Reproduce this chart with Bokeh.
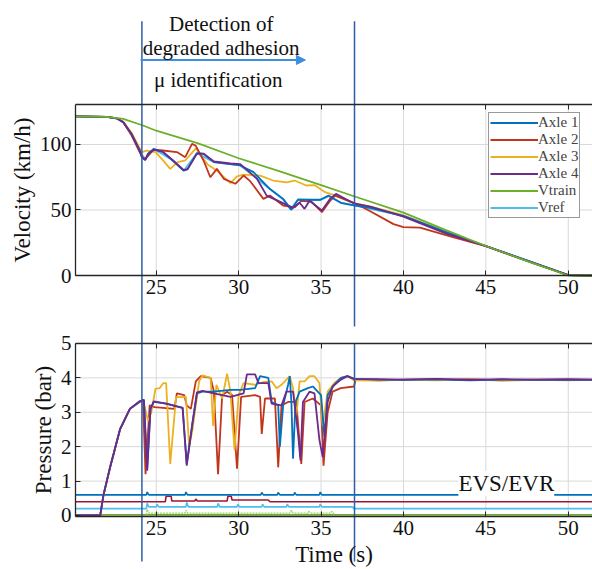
from bokeh.plotting import figure
from bokeh.models import (Range1d, FixedTicker, LinearAxis, Legend, LegendItem,
                          Label, Arrow, NormalHead)
from bokeh.embed import file_html
from bokeh.resources import INLINE

FONT = "Liberation Serif"

# ---------------- data ----------------
x_ticks = [25, 30, 35, 40, 45, 50]
v_ticks = [0, 50, 100]
p_ticks = [0, 1, 2, 3, 4, 5]
t_markers = [24.13, 37.03]

# velocity (km/h)
t_v1 = [20.1, 22.0, 22.6, 23.0, 23.5, 24.0, 24.13, 24.33, 24.5, 24.84, 25.4, 26.0, 26.66, 26.9, 27.47, 27.87, 28.5, 29.5, 30.1, 30.9, 31.9, 32.7, 33.2, 33.6, 34.95, 35.45, 36.2, 37.0, 38.0, 40.0, 42.5, 45.0, 47.5, 50.0, 51.47]
v_axle1 = [121.5, 121.0, 120.0, 117.0, 108.0, 95.0, 90.0, 88.3, 93.0, 96.6, 94.2, 87.8, 80.0, 81.4, 93.4, 92.9, 86.5, 85.0, 84.0, 78.9, 66.0, 58.5, 50.1, 57.8, 57.8, 61.0, 55.5, 53.6, 51.7, 45.5, 33.5, 22.5, 11.5, 0.3, 0.0]

t_v2 = [20.1, 22.0, 22.6, 23.0, 23.5, 24.0, 24.23, 24.4, 24.84, 25.4, 26.25, 26.76, 27.17, 27.4, 27.87, 28.28, 28.68, 29.1, 29.8, 30.3, 30.7, 31.0, 31.5, 31.9, 32.3, 32.7, 33.4, 33.8, 34.4, 35.05, 35.55, 35.85, 37.0, 37.9, 39.4, 40.0, 41.0, 43.0, 45.0, 47.5, 50.0, 51.47]
v_axle2 = [121.5, 121.0, 120.0, 117.0, 107.0, 94.0, 89.0, 90.0, 96.0, 95.4, 94.2, 90.3, 100.5, 99.0, 87.8, 75.0, 81.4, 73.8, 70.0, 76.3, 72.0, 67.0, 58.5, 61.0, 57.3, 53.4, 52.0, 57.0, 56.5, 48.3, 57.0, 61.0, 55.5, 49.6, 39.2, 36.9, 36.5, 29.3, 22.4, 11.2, 0.3, 0.0]

t_v3 = [20.1, 22.0, 22.6, 23.0, 23.5, 24.13, 24.4, 24.96, 25.4, 25.85, 26.3, 26.76, 27.4, 28.1, 28.68, 29.5, 29.9, 30.3, 31.3, 32.1, 32.9, 33.4, 34.1, 34.6, 35.25, 35.65, 37.0, 38.0, 40.0, 42.5, 45.0, 47.5, 50.0, 51.47]
v_axle3 = [121.5, 121.0, 120.0, 117.5, 109.0, 94.0, 95.4, 94.2, 88.0, 81.4, 86.5, 87.8, 97.0, 85.0, 80.0, 70.5, 75.6, 77.0, 76.3, 72.5, 71.0, 72.5, 68.7, 69.0, 63.6, 62.0, 55.0, 52.5, 46.0, 33.5, 22.4, 11.2, 0.3, 0.0]

t_v4 = [20.1, 22.0, 22.6, 23.0, 23.5, 24.0, 24.13, 24.33, 24.5, 24.84, 25.4, 26.0, 26.66, 26.9, 27.47, 27.87, 28.5, 29.5, 30.1, 31.1, 31.7, 32.3, 33.3, 33.7, 34.0, 34.3, 35.05, 35.55, 35.9, 37.0, 38.0, 40.0, 42.6, 45.0, 47.5, 50.0, 51.47]
v_axle4 = [121.5, 121.0, 120.0, 117.0, 108.0, 95.5, 90.5, 88.0, 92.5, 96.0, 94.5, 88.0, 80.5, 81.0, 93.0, 93.0, 87.0, 85.5, 85.0, 74.0, 61.0, 57.5, 51.6, 55.5, 50.9, 57.0, 49.6, 58.5, 62.3, 55.0, 52.5, 45.0, 32.0, 22.4, 11.2, 0.3, 0.0]

t_vtrain = [20.1, 22.0, 23.0, 24.2, 25.0, 27.5, 30.0, 32.5, 35.0, 37.0, 40.0, 42.5, 45.0, 47.5, 50.0, 51.47]
v_train = [121.5, 121.0, 119.5, 114.5, 110.5, 101.0, 89.5, 79.5, 69.0, 60.5, 48.0, 35.0, 22.5, 11.0, 0.0, 0.0]

t_vref = [20.1, 22.0, 22.6, 23.0, 23.5, 24.0, 24.33, 24.84, 26.0, 26.66, 27.47, 28.5, 30.1, 31.9, 32.7, 33.15, 33.6, 34.95, 35.45, 36.2, 37.0, 40.0, 45.0, 50.0, 51.47]
v_ref = [121.5, 121.0, 120.0, 117.0, 108.0, 95.0, 88.5, 96.5, 88.0, 80.0, 93.4, 86.5, 84.0, 66.0, 58.0, 50.5, 58.0, 57.5, 60.5, 55.5, 53.6, 45.5, 22.5, 0.3, 0.0]

# brake cylinder pressure (bar)
t_p1 = [20.1, 21.6, 21.8, 22.2, 22.8, 23.4, 24.0, 24.25, 24.45, 24.65, 24.85, 25.6, 26.6, 26.85, 27.2, 27.47, 27.8, 28.5, 29.5, 30.1, 31.0, 31.3, 31.8, 32.0, 32.4, 32.5, 32.7, 33.0, 33.1, 33.2, 33.3, 33.45, 33.7, 34.2, 34.5, 35.0, 35.2, 35.4, 35.8, 36.2, 36.6, 37.0, 38.5, 40.0, 42.0, 44.0, 46.0, 48.0, 50.0, 51.47]
p_axle1 = [0, 0, 0.6, 1.4, 2.5, 3.1, 3.32, 3.36, 1.35, 3.1, 3.3, 3.25, 3.13, 1.5, 2.7, 3.55, 3.6, 3.6, 3.65, 3.65, 3.7, 4.05, 4.0, 3.3, 3.2, 2.0, 3.2, 3.8, 4.05, 3.3, 1.65, 3.3, 3.6, 3.7, 3.75, 3.5, 2.3, 3.5, 3.8, 4.0, 4.05, 3.97, 3.95, 3.94, 3.96, 3.93, 3.95, 3.94, 3.95, 3.94]

t_p2 = [20.1, 21.6, 21.8, 22.2, 22.8, 23.4, 24.0, 24.2, 24.35, 24.6, 24.9, 26.1, 26.25, 26.7, 26.85, 27.1, 27.4, 27.7, 28.3, 28.5, 28.75, 29.0, 29.3, 29.6, 29.9, 30.15, 31.0, 31.3, 31.4, 31.6, 32.2, 32.4, 32.6, 33.0, 33.5, 33.8, 34.0, 34.5, 35.0, 35.15, 35.4, 35.7, 36.2, 37.0, 37.1, 38.5, 40.0, 42.0, 44.0, 46.0, 48.0, 50.0, 51.47]
p_axle2 = [0, 0, 0.6, 1.4, 2.5, 3.1, 3.3, 3.33, 1.2, 3.2, 3.15, 3.1, 3.55, 3.5, 3.2, 3.1, 3.9, 4.05, 4.0, 3.6, 1.2, 3.5, 3.6, 3.5, 1.36, 3.45, 3.5, 3.45, 2.37, 3.4, 3.4, 1.4, 3.2, 3.3, 3.3, 1.5, 3.3, 3.4, 3.2, 1.45, 3.0, 3.6, 3.7, 3.75, 3.95, 3.93, 3.95, 3.94, 3.96, 3.93, 3.95, 3.94, 3.95]

t_p3 = [20.1, 21.6, 21.8, 22.2, 22.8, 23.4, 24.0, 24.2, 24.5, 24.7, 24.95, 25.2, 25.44, 25.6, 25.85, 26.2, 26.8, 27.0, 27.2, 27.6, 27.8, 28.3, 28.45, 28.65, 29.0, 29.3, 29.5, 29.75, 30.0, 30.3, 31.0, 31.5, 32.0, 32.3, 32.6, 33.1, 33.3, 33.5, 33.7, 34.0, 34.3, 34.6, 34.9, 35.1, 35.4, 35.8, 36.2, 36.6, 37.0, 38.5, 40.0, 42.0, 44.0, 46.0, 48.0, 50.0, 51.47]
p_axle3 = [0, 0, 0.6, 1.4, 2.5, 3.1, 3.32, 3.35, 2.75, 3.0, 3.68, 3.7, 3.85, 3.85, 1.5, 3.44, 3.45, 2.0, 2.5, 3.9, 4.07, 4.0, 2.6, 3.8, 3.4, 4.12, 3.6, 1.9, 3.5, 3.85, 3.8, 3.88, 3.9, 3.7, 3.8, 4.05, 3.7, 2.9, 3.9, 3.9, 4.05, 4.05, 3.85, 2.6, 3.6, 3.85, 4.0, 4.05, 3.93, 3.92, 3.94, 3.93, 3.95, 3.92, 3.94, 3.93, 3.94]

t_p4 = [20.1, 21.6, 21.8, 22.2, 22.8, 23.4, 24.0, 24.25, 24.45, 24.65, 24.85, 25.6, 26.6, 26.85, 27.2, 27.47, 27.8, 28.5, 29.5, 29.9, 30.3, 30.5, 31.0, 31.2, 31.8, 32.0, 32.6, 32.9, 33.3, 33.6, 33.75, 33.9, 34.3, 34.6, 34.9, 35.1, 35.4, 35.7, 36.2, 36.6, 37.0, 38.5, 40.0, 42.0, 44.0, 46.0, 48.0, 50.0, 51.47]
p_axle4 = [0, 0, 0.6, 1.4, 2.5, 3.1, 3.32, 3.36, 1.3, 3.1, 3.32, 3.25, 3.13, 1.45, 2.7, 3.58, 3.62, 3.55, 3.45, 3.5, 3.55, 4.1, 4.1, 3.85, 3.85, 3.25, 3.2, 3.6, 3.6, 2.4, 1.6, 3.3, 3.6, 3.55, 2.2, 1.7, 3.3, 3.75, 3.95, 4.05, 3.97, 3.96, 3.95, 3.97, 3.94, 3.96, 3.95, 3.96, 3.95]

# EVS / EVR valve signals
t_evs1 = [20.1, 24.4, 24.45, 24.55, 26.75, 26.8, 26.9, 31.35, 31.4, 31.5, 32.35, 32.4, 32.5, 33.35, 33.4, 33.5, 34.9, 34.95, 35.05, 51.47]
s_evs1 = [0.6, 0.6, 0.68, 0.6, 0.6, 0.68, 0.6, 0.6, 0.67, 0.6, 0.6, 0.67, 0.6, 0.6, 0.67, 0.6, 0.6, 0.68, 0.6, 0.6]

t_evs2 = [20.1, 25.55, 25.6, 25.9, 25.95, 27.35, 27.4, 27.5, 29.3, 29.35, 29.55, 29.6, 31.8, 31.9, 51.47]
s_evs2 = [0.4, 0.4, 0.56, 0.56, 0.42, 0.42, 0.48, 0.42, 0.42, 0.56, 0.56, 0.45, 0.45, 0.4, 0.4]

t_evs3 = [20.1, 24.4, 24.45, 24.55, 25.0, 25.05, 25.15, 26.8, 26.85, 26.95, 28.7, 28.75, 28.85, 29.9, 29.95, 30.05, 31.4, 31.45, 31.55, 32.9, 32.95, 33.05, 34.9, 34.95, 35.05, 36.9, 37.0, 51.47]
s_evs3 = [0.2, 0.2, 0.35, 0.25, 0.25, 0.33, 0.25, 0.25, 0.38, 0.25, 0.25, 0.35, 0.25, 0.25, 0.33, 0.25, 0.25, 0.33, 0.25, 0.25, 0.33, 0.25, 0.25, 0.33, 0.25, 0.25, 0.2, 0.2]

t_evs4 = [20.1, 51.47]
s_evs4 = [0.02, 0.02]
t_evs4b = [24.4, 24.45, 24.55, 26.75, 26.8, 26.9, 33.1, 33.2, 33.3, 34.2, 34.25, 34.35, 35.6, 35.65, 35.8]
s_evs4b = [0.02, 0.18, 0.07, 0.07, 0.15, 0.07, 0.07, 0.15, 0.07, 0.07, 0.12, 0.07, 0.07, 0.12, 0.02]

# panel extents (data units)
T_LO, T_HI = 20.1, 51.47
V_LO, V_HI = 0.0, 130.5
P_LO, P_HI = -0.03, 5.0

# ---------------- style ----------------
C1, C2, C3, C4, C5, C6 = "#0072BD", "#C1351B", "#EDB120", "#6B2A8C", "#6BB02A", "#4DBEEE"
EVR_RED = "#A2142F"
AX = "#262626"
GRID = "#d9d9d9"
MARK = "#2d5ea8"
lw = 1.8

# one canvas-wide frame; the two panels live in it through two y ranges
p = figure(width=592, height=569,
           x_range=Range1d(15.55, 51.47), y_range=Range1d(-224.4, 209.9),
           x_axis_location=None, y_axis_location=None,
           output_backend="svg", toolbar_location=None)
p.extra_y_ranges = {"pres": Range1d(-1.57, 14.97)}
p.min_border_left = p.min_border_right = p.min_border_top = p.min_border_bottom = 0
p.outline_line_color = None
p.grid.visible = False
p.background_fill_color = "white"
p.border_fill_color = "white"


def make_axis(ticks, loc, bounds, labels=True, label=None, yname="default"):
    ax = LinearAxis(fixed_location=loc, bounds=bounds, y_range_name=yname)
    ax.ticker = FixedTicker(ticks=ticks)
    ax.major_tick_in = 5
    ax.major_tick_out = 0
    ax.minor_tick_line_color = None
    ax.axis_line_color = AX
    ax.axis_line_width = 1.3
    ax.major_tick_line_color = AX
    ax.major_label_text_font = FONT
    ax.major_label_text_font_size = "21px"
    ax.major_label_text_color = "#111111" if labels else None
    ax.major_label_standoff = 4
    if label:
        ax.axis_label = label
    ax.axis_label_text_font = FONT
    ax.axis_label_text_font_size = "23px"
    ax.axis_label_text_font_style = "normal"
    ax.axis_label_text_color = "#111111"
    ax.axis_label_standoff = 2
    return ax


# grids
p.segment(x0=x_ticks, y0=[V_LO] * len(x_ticks), x1=x_ticks, y1=[V_HI] * len(x_ticks),
          line_color=GRID, line_width=1, level="underlay")
p.segment(x0=[T_LO] * len(v_ticks), y0=v_ticks, x1=[T_HI] * len(v_ticks), y1=v_ticks,
          line_color=GRID, line_width=1, level="underlay")
p.segment(x0=x_ticks, y0=[P_LO] * len(x_ticks), x1=x_ticks, y1=[P_HI] * len(x_ticks),
          line_color=GRID, line_width=1, level="underlay", y_range_name="pres")
p.segment(x0=[T_LO] * len(p_ticks), y0=p_ticks, x1=[T_HI] * len(p_ticks), y1=p_ticks,
          line_color=GRID, line_width=1, level="underlay", y_range_name="pres")

# axes
p.add_layout(make_axis(v_ticks, T_LO, (V_LO, V_HI), label="Velocity (km/h)"), "left")
p.add_layout(make_axis(x_ticks, V_LO, (T_LO, T_HI)), "below")
p.add_layout(make_axis(x_ticks, V_HI, (T_LO, T_HI), labels=False), "above")
p.add_layout(make_axis(p_ticks, T_LO, (P_LO, P_HI), label="Pressure (bar)", yname="pres"), "left")
bx = make_axis(x_ticks, P_LO, (T_LO, T_HI), label="Time (s)", yname="pres")
bx.axis_label_standoff = 4
p.add_layout(bx, "below")
p.add_layout(make_axis(x_ticks, P_HI, (T_LO, T_HI), labels=False, yname="pres"), "above")

# velocity lines
r6 = p.line(t_vref, v_ref, line_color=C6, line_width=lw)
r3 = p.line(t_v3, v_axle3, line_color=C3, line_width=lw)
r2 = p.line(t_v2, v_axle2, line_color=C2, line_width=lw)
r1 = p.line(t_v1, v_axle1, line_color=C1, line_width=lw)
r4 = p.line(t_v4, v_axle4, line_color=C4, line_width=lw)
r5 = p.line(t_vtrain, v_train, line_color=C5, line_width=lw)

# pressure lines
p.line(t_evs4, s_evs4, line_color=C5, line_width=1.6, y_range_name="pres")
p.line(t_evs4b, s_evs4b, line_color="#9bd35a", line_width=1.4, line_dash="2 1", y_range_name="pres")
p.line(t_evs3, s_evs3, line_color=C6, line_width=1.6, y_range_name="pres")
p.line(t_evs2, s_evs2, line_color=EVR_RED, line_width=1.6, y_range_name="pres")
p.line(t_evs1, s_evs1, line_color=C1, line_width=1.6, y_range_name="pres")
p.line(t_p2, p_axle2, line_color=C2, line_width=lw, y_range_name="pres")
p.line(t_p3, p_axle3, line_color=C3, line_width=lw, y_range_name="pres")
p.line(t_p1, p_axle1, line_color=C1, line_width=lw, y_range_name="pres")
p.line(t_p4, p_axle4, line_color=C4, line_width=lw, y_range_name="pres")

legend = Legend(items=[
    LegendItem(label="Axle 1", renderers=[r1]),
    LegendItem(label="Axle 2", renderers=[r2]),
    LegendItem(label="Axle 3", renderers=[r3]),
    LegendItem(label="Axle 4", renderers=[r4]),
    LegendItem(label="Vtrain", renderers=[r5]),
    LegendItem(label="Vref", renderers=[r6]),
], location=(488, 351))
legend.label_text_font = FONT
legend.label_text_font_size = "15px"
legend.label_height = 17
legend.glyph_height = 17
legend.glyph_width = 48
legend.label_standoff = 0
legend.spacing = 0
legend.padding = 1
legend.margin = 0
legend.border_line_color = "#333333"
legend.border_line_width = 1.2
legend.background_fill_color = "white"
legend.background_fill_alpha = 1
p.add_layout(legend)

# time-window markers
p.segment(x0=t_markers, y0=[194, 194], x1=t_markers, y1=[-218.3, -38.9],
          line_color=MARK, line_width=1.5)
p.segment(x0=[t_markers[1]], y0=[P_HI], x1=[t_markers[1]], y1=[-1.34],
          line_color=MARK, line_width=1.5, y_range_name="pres")
p.add_layout(Arrow(x_start=24.05, y_start=164.5, x_end=34.05, y_end=164.5,
                   end=NormalHead(size=9, fill_color="#3d8ee0", line_color="#3d8ee0"),
                   line_color="#3d8ee0", line_width=2))
for txt, tx, ty in [("Detection of", 28.94, 191.6),
                    ("degraded adhesion", 28.94, 173.5),
                    ("\u03bc identification", 28.76, 149.6)]:
    p.add_layout(Label(x=tx, y=ty, text=txt, text_align="center", text_baseline="middle",
                       text_font=FONT, text_font_size="21px", text_color="#111111"))

p.add_layout(Label(x=46.24, y=0.93, y_range_name="pres", text="EVS/EVR",
                   text_align="center", text_baseline="middle",
                   text_font=FONT, text_font_size="23px", text_color="#111111",
                   background_fill_color="white", background_fill_alpha=1))

open("out.html", "w").write(file_html(p, INLINE))
